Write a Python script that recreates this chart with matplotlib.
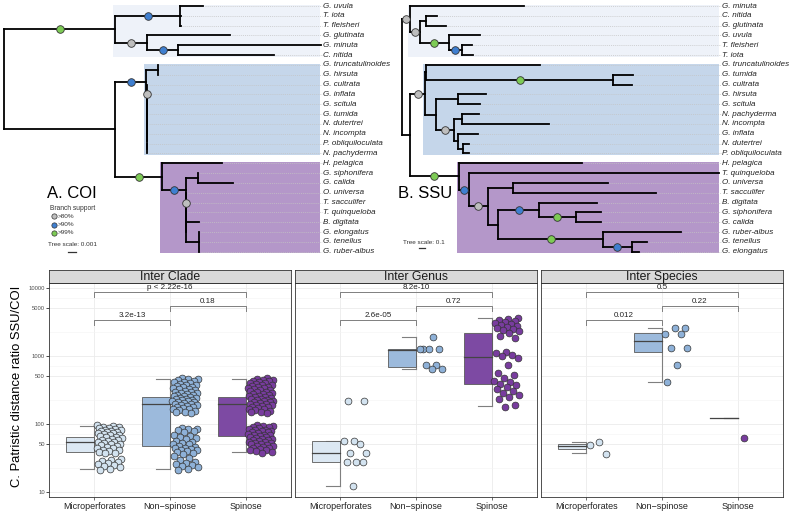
# Phylogenies (COI / SSU) + patristic distance ratio panels
import matplotlib
matplotlib.use('Agg')
import matplotlib.pyplot as plt
from matplotlib.patches import Rectangle
from matplotlib.collections import LineCollection
from matplotlib.ticker import FixedLocator, NullFormatter
import numpy as np

plt.rcParams['font.family'] = 'Liberation Sans'

# =========================================================================
# DATA
# =========================================================================
# trees (branch lengths in subs/site, internal labels = bootstrap support)
coi_newick = (
    "(((G. uvula:0.0029,T. iota:0.0001,T. fleisheri:0.0001)95:0.0081,"
    "(G. glutinata:0.0104,(G. minuta:0.0178,C. nitida:0.0119)95:0.0039)85:0.0040)100:0.0139,"
    "(((G. truncatulinoides:0,G. hirsuta:0):0.0014,"
    "(G. cultrata:0,(G. inflata:0,(G. scitula:0,(G. tumida:0,(N. dutertrei:0,(N. incompta:0,"
    "(P. obliquiloculata:0,N. pachyderma:0):0):0):0):0):0):0)85:0.0001)95:0.0039,"
    "(H. pelagica:0.0074,((G. siphonifera:0,G. calida:0.0043):0.0016,"
    "(O. universa:0,(T. sacculifer:0,(T. quinqueloba:0,(B. digitata:0.0016,"
    "(G. elongatus:0,G. tenellus:0,G. ruber-albus:0):0.0016):0):0):0)85:0.0001)95:0.0029)100:0.0059):0.0139);"
)
ssu_newick = (
    "((G. minuta:1.89,((C. nitida:0.18,G. glutinata:0.32):0.10,"
    "(G. uvula:0.53,(T. fleisheri:0.17,T. iota:0.19)95:0.22)100:0.47)85:0.17)85:0.14,"
    "(((G. truncatulinoides:1.90,(G. tumida:0.34,G. cultrata:0.32)100:3.11):0.02,"
    "((G. hirsuta:0.47,G. scitula:0.36):0.37,((N. pachyderma:0.28,N. incompta:1.46):0.13,"
    "(G. inflata:0.33,(N. dutertrei:0.10,P. obliquiloculata:0.10):0.08):0.07)85:0.30):0.18)85:0.25,"
    "(H. pelagica:2.06,(T. quinqueloba:4.17,((O. universa:1.57,T. sacculifer:2.37):0.43,"
    "((B. digitata:0.96,(G. siphonifera:0.42,G. calida:0.42)100:0.61)95:0.68,"
    "(G. ruber-albus:1.31,(G. tenellus:0.26,G. elongatus:0.13)95:0.48)100:1.74):0.18)85:0.31)95:0.17)100:0.81):0.14);"
)
clade_tips = [(0, 5), (6, 15), (16, 25)]     # microperforates, non-spinose, spinose
support_cuts = [80, 90, 99]
support_labels = ['>80%', '>90%', '>99%']

groups = ['Microperforates', 'Non\u2212spinose', 'Spinose']
facets = ['Inter Clade', 'Inter Genus', 'Inter Species']

clade_micro = [96, 93, 91, 89, 88, 86, 85, 83, 82, 80, 79, 77, 76, 74, 73, 71, 70, 68, 67, 65,
               64, 62, 61, 59, 58, 57, 55, 54, 53, 51, 50, 49, 47, 46, 45, 44, 42, 41, 40, 39,
               38, 37, 31, 30, 29, 28, 27, 26, 25, 24, 23, 22, 21]
clade_nonspinose = [470, 462, 455, 440, 430, 420, 410, 400, 390, 380, 370, 360, 352, 345, 338,
                    330, 322, 315, 308, 300, 294, 288, 282, 276, 270, 265, 260, 255, 250, 245,
                    240, 236, 232, 228, 224, 220, 216, 212, 208, 204, 200, 196, 192, 188, 184,
                    180, 176, 172, 168, 164, 160, 156, 152, 148, 145,
                    86, 85, 84, 83, 80, 76, 70, 66, 64, 62, 60, 57, 55, 53, 51, 50, 48, 46, 45,
                    44, 43, 42, 41, 40, 39, 38, 36, 34, 32, 30, 28, 27, 26, 25, 24, 23, 22, 21]
clade_spinose = [468, 458, 450, 442, 432, 424, 415, 405, 396, 388, 380, 372, 364, 356, 348, 340,
                 333, 326, 319, 312, 305, 298, 292, 286, 280, 274, 268, 262, 257, 252, 247, 242,
                 237, 232, 228, 224, 220, 216, 212, 208, 204, 200, 196, 192, 188, 184, 180, 176,
                 172, 168, 164, 160, 156, 152, 148, 145,
                 98, 95, 93, 91, 89, 87, 85, 83, 81, 80, 78, 76, 75, 73, 72, 70, 69, 68, 66, 65,
                 64, 63, 61, 60, 59, 58, 57, 55, 54, 53, 52, 51, 50, 49, 48, 47, 46, 45, 44, 43,
                 42, 41, 40, 39, 38]
genus_micro = [219, 219, 57, 56, 51, 38, 38, 28, 28, 28, 12.3]
genus_nonspinose = [1884, 1250, 1250, 1250, 1250, 730, 730, 646, 646]
genus_spinose = [3600, 3500, 3400, 3300, 3200, 3100, 3000, 2900, 2800, 2700, 2600, 2500, 2400,
                 2300, 2200, 2000, 1850, 1150, 1100, 1050, 990, 950, 750, 560, 520, 470, 430,
                 410, 390, 370, 350, 330, 310, 290, 270, 250, 230, 190, 180]
species_micro = [54, 49, 36]
species_nonspinose = [2553, 2553, 2100, 2090, 1330, 1320, 730, 419]
species_spinose = [63]

# boxplot stats: (low whisker, Q1, median, Q3, high whisker)
clade_box = [(22, 39, 55, 65, 94), (22, 47, 195, 252, 454), (39, 67, 195, 252, 454)]
genus_box = [(12.3, 28, 38, 57, 57), (646, 690, 1240, 1254, 1884), (182, 384, 980, 2158, 3580)]
species_box = [(37, 43, 48, 51, 54), (419, 1133, 1660, 2158, 2553), (121, 121, 121, 121, 121)]

pairs = [(0, 2), (1, 2), (0, 1)]
p_clade = ['p < 2.22e-16', '0.18', '3.2e-13']
p_genus = ['8.2e-10', '0.72', '2.6e-05']
p_species = ['0.5', '0.22', '0.012']

y_breaks = [10, 50, 100, 500, 1000, 5000, 10000]

# =========================================================================
# COLOURS
# =========================================================================
COR_HL = ['#EEF2F9', '#C5D6EA', '#B497C9']
COR_BOX = ['#DCE8F3', '#9CBADC', '#7D4AA3']
COR_PT = ['#D3E3F0', '#8EB1D8', '#783C9E']
COR_SUP = ['#BEBEBE', '#3F7FD0', '#7DCB55']
COR_LINE = '#7F7F7F'

W, H = 793, 511
fig = plt.figure(figsize=(W / 100, H / 100), dpi=100, facecolor='white')


def fig_axes(x0, y0, x1, y1):
    # pixel box, top-left origin
    return fig.add_axes([x0 / W, 1 - y1 / H, (x1 - x0) / W, (y1 - y0) / H])


def fpx(x, y):
    return x / W, 1 - y / H


# =========================================================================
# TREES
# =========================================================================
def parse_newick(s):
    s = s.strip().rstrip(';')
    pos = 0

    def node():
        nonlocal pos
        kids = []
        if s[pos] == '(':
            pos += 1
            while True:
                kids.append(node())
                if s[pos] == ',':
                    pos += 1
                    continue
                pos += 1  # ')'
                break
        j = pos
        while pos < len(s) and s[pos] not in ':,)':
            pos += 1
        label = s[j:pos].strip()
        length = 0.0
        if pos < len(s) and s[pos] == ':':
            pos += 1
            j = pos
            while pos < len(s) and s[pos] not in ',)':
                pos += 1
            length = float(s[j:pos])
        return {'label': label, 'len': length, 'kids': kids}
    return node()


def layout(root):
    tips, nodes = [], []

    def walk(n, px):
        n['px'] = px
        n['x'] = px + n['len']
        nodes.append(n)
        if n['kids']:
            for c in n['kids']:
                walk(c, n['x'])
            ys = [c['y'] for c in n['kids']]
            n['y'] = (min(ys) + max(ys)) / 2
            n['tmin'] = min(c['tmin'] for c in n['kids'])
            n['tmax'] = max(c['tmax'] for c in n['kids'])
        else:
            n['y'] = len(tips)
            n['tmin'] = n['tmax'] = len(tips)
            tips.append(n)
    walk(root, 0.0)
    return tips, nodes


TIP0, TIP_STEP = 6.0, 9.83   # pixel row of first tip, pixels between tips


def draw_tree(newick, box, root_px, px_per_unit, label_px):
    x0, y0, x1, y1 = box
    ax = fig_axes(*box)
    ax.axis('off')
    upp = 1.0 / px_per_unit
    ax.set_xlim((x0 - root_px) * upp, (x1 - root_px) * upp)
    ax.set_ylim((y1 - TIP0) / TIP_STEP, (y0 - TIP0) / TIP_STEP)

    root = parse_newick(newick)
    tips, nodes = layout(root)
    lab_x = (label_px - root_px) * upp

    # clade highlights
    for (a, b), col in zip(clade_tips, COR_HL):
        mrca = next(n for n in nodes if n['kids'] and n['tmin'] == a and n['tmax'] == b)
        left = mrca['x'] - 2 * upp
        ax.add_patch(Rectangle((left, a - 0.1), lab_x - 3 * upp - left, b - a + 0.27,
                               facecolor=col, edgecolor='none', zorder=0))

    # dotted leaders + tip labels
    for t in tips:
        ax.plot([t['x'] + 1.5 * upp, lab_x - 1 * upp], [t['y'], t['y']], color='#C4C4C4',
                lw=0.5, ls=(0, (1.5, 1.5)), zorder=1)
        ax.text(lab_x, t['y'], t['label'], fontsize=5.8, style='italic', color='#222222',
                va='center', ha='left', clip_on=False)

    # branches (rectangular)
    segs = []
    for n in nodes:
        if n is not root:
            segs.append([(n['px'], n['y']), (n['x'], n['y'])])
        if n['kids']:
            ys = [c['y'] for c in n['kids']]
            segs.append([(n['x'], min(ys)), (n['x'], max(ys))])
    lc = LineCollection(segs, colors='black', linewidths=1.3, zorder=2)
    lc.set_capstyle('projecting')
    ax.add_collection(lc)

    # support points on branch midpoints
    for n in nodes:
        if n['kids'] and n['label']:
            v = float(n['label'])
            k = max(i for i, c in enumerate(support_cuts) if v > c)
            ax.scatter(n['px'] + n['len'] / 2, n['y'], s=30, color=COR_SUP[k],
                       edgecolors='#333333', linewidths=0.6, zorder=4)
    return ax, upp


def scale_bar(ax, upp, root_px, x_px, y_px, value):
    xs = (x_px - root_px) * upp
    ys = (y_px - TIP0) / TIP_STEP
    ax.plot([xs, xs + value], [ys, ys], color='#333333', lw=0.9, clip_on=False)


ax_coi, upp_coi = draw_tree(coi_newick, (0, 0, 396, 262), 4, 8000, 323)
ax_ssu, upp_ssu = draw_tree(ssu_newick, (396, 0, 793, 262), 401.7, 60, 722)

# titles / legend
fig.text(*fpx(72, 193), 'A. COI', fontsize=12, ha='center', va='center')
fig.text(*fpx(72.5, 209), 'Branch support', fontsize=4.8, ha='center', va='center', color='#333333')
for k, y in enumerate([216, 225, 233]):
    fig.add_artist(plt.Line2D([54 / W], [1 - y / H], marker='o', markersize=3.8, color=COR_SUP[k],
                              markeredgecolor='#333333', markeredgewidth=0.5, transform=fig.transFigure))
    fig.text(*fpx(57.5, y), support_labels[k], fontsize=4.6, ha='left', va='center', color='#333333')
fig.text(*fpx(73, 244), 'Tree scale: 0.001', fontsize=4.6, ha='center', va='center', color='#333333')
scale_bar(ax_coi, upp_coi, 4, 68, 252, 0.001)

fig.text(*fpx(425, 193), 'B. SSU', fontsize=12, ha='center', va='center')
fig.text(*fpx(424, 242), 'Tree scale: 0.1', fontsize=4.6, ha='center', va='center', color='#333333')
scale_bar(ax_ssu, upp_ssu, 401.7, 419, 248, 0.1)

# =========================================================================
# RATIO PANELS
# =========================================================================
points = [[clade_micro, clade_nonspinose, clade_spinose],
          [genus_micro, genus_nonspinose, genus_spinose],
          [species_micro, species_nonspinose, species_spinose]]
boxes = [clade_box, genus_box, species_box]
pvals = [p_clade, p_genus, p_species]
levels = [8750, 5430, 3390]
minor_breaks = [22.4, 70.7, 224, 707, 2236, 7071]

panel_x = [(49, 291), (295, 537), (541, 783)]
w = 0.37

for k, (x0, x1) in enumerate(panel_x):
    ax = fig_axes(x0, 283, x1, 497)
    ax.set_yscale('log')
    ax.set_ylim(8.44, 11850)
    ax.set_xlim(0.4, 3.6)

    ax.yaxis.set_major_locator(FixedLocator(y_breaks))
    ax.yaxis.set_minor_locator(FixedLocator(minor_breaks))
    ax.yaxis.set_minor_formatter(NullFormatter())
    ax.set_yticklabels([str(v) for v in y_breaks])
    ax.grid(which='major', color='#EBEBEB', lw=0.6, zorder=0)
    ax.grid(which='minor', axis='y', color='#F4F4F4', lw=0.4, zorder=0)
    ax.set_axisbelow(True)

    ax.set_xticks([1, 2, 3])
    ax.set_xticklabels(groups, fontsize=6.5, color='#222222')
    ax.tick_params(axis='x', length=2, pad=1.5, width=0.5, color='#333333')
    ax.tick_params(axis='y', which='minor', length=0)
    if k == 0:
        ax.tick_params(axis='y', which='major', labelsize=4.2, labelcolor='#4D4D4D',
                       length=2, width=0.5, pad=1)
    else:
        ax.tick_params(axis='y', which='major', labelleft=False, length=0)
    for sp in ax.spines.values():
        sp.set_color('#333333')
        sp.set_linewidth(0.6)

    for g in range(3):
        pos = g + 1
        lo, q1, med, q3, hi = boxes[k][g]
        ax.plot([pos, pos], [lo, hi], color=COR_LINE, lw=0.8, zorder=2)
        ax.plot([pos - w / 2, pos], [hi, hi], color=COR_LINE, lw=0.8, zorder=2)
        ax.plot([pos - w / 2, pos], [lo, lo], color=COR_LINE, lw=0.8, zorder=2)
        ax.add_patch(Rectangle((pos - w, q1), w, q3 - q1, facecolor=COR_BOX[g],
                               edgecolor='#5A5A5A', lw=0.6, zorder=3))
        ax.plot([pos - w, pos], [med, med], color='#444444', lw=0.9, zorder=4)

        vals = np.array(points[k][g], dtype=float)
        off = 0.03 + 0.34 * ((np.arange(len(vals)) * 0.6180339887 + 0.37 * g + 0.21 * k) % 1)
        ax.scatter(pos + off, vals, s=24, color=COR_PT[g], edgecolors='#333333',
                   linewidths=0.5, zorder=5)

    for (i, j), lev, lab in zip(pairs, levels, pvals[k]):
        ax.plot([i + 1, i + 1, j + 1, j + 1], [lev * 0.84, lev, lev, lev * 0.84],
                color=COR_LINE, lw=0.7, zorder=2)
        ax.text((i + j) / 2 + 1, lev * 1.05, lab, fontsize=5.8, ha='center', va='bottom',
                color='#222222')

    # strip
    st = fig_axes(x0, 270, x1, 283)
    st.set_facecolor('#D9D9D9')
    st.set_xticks([])
    st.set_yticks([])
    for sp in st.spines.values():
        sp.set_color('#333333')
        sp.set_linewidth(0.6)
    st.text(0.5, 0.45, facets[k], fontsize=8.8, ha='center', va='center',
            transform=st.transAxes, color='#1A1A1A')

fig.text(*fpx(17, 386), 'C. Patristic distance ratio SSU/COI', fontsize=9.4, rotation=90,
         ha='center', va='center')

fig.savefig('out.png', dpi=100, facecolor='white')
